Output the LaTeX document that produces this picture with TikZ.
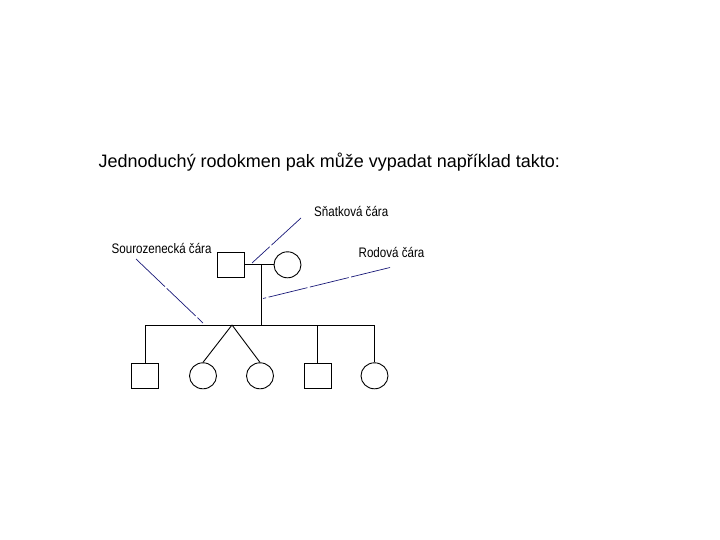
\documentclass[tikz,border=0pt]{standalone}
\usepackage{fontspec}
\setmainfont{Liberation Sans}
\usetikzlibrary{shapes.geometric}
\begin{document}
\begin{tikzpicture}[x=1pt,y=-1pt,
  male/.style={draw,line width=0.9pt,minimum width=27pt,minimum height=25pt,inner sep=0pt},
  female/.style={draw,line width=0.9pt,ellipse,minimum width=27pt,minimum height=26pt,inner sep=0pt},
  ped/.style={line width=0.9pt},
  ptr/.style={draw={rgb,255:red,25;green,25;blue,120},line width=0.7pt,dash pattern=on 40pt off 2.5pt},
  lbl/.style={font=\fontsize{13.8}{15}\selectfont,inner sep=0pt,anchor=west,xscale=0.84},
  title/.style={font=\fontsize{18}{20}\selectfont,inner sep=0pt,anchor=west}]
\useasboundingbox (0,0) rectangle (720,540);
\node[title] (t) at (98.5,162) {Jednoduchý rodokmen pak může vypadat například takto:};
% parents
\node[male] (f) at (230.5,264.8) {};
\node[female] (m) at (287.5,264.8) {};
\draw[ped] (f.east) -- (m.west);
\coordinate (d) at (261,265);
\coordinate (s) at (261,325);
\draw[ped] (d) -- (s);
% sibling line
\coordinate (sl) at (145,325);
\coordinate (sr) at (374.5,325);
\draw[ped] (sl) -- (sr);
% children
\node[male] (c1) at (145,375.8) {};
\node[female] (c2) at (203,375.8) {};
\node[female] (c3) at (260,375.8) {};
\node[male] (c4) at (317.5,375.8) {};
\node[female] (c5) at (374.5,375.8) {};
\coordinate (tw) at (232,325);
\draw[ped] (sl) -- (c1.north);
\draw[ped] (tw) -- (c2.north);
\draw[ped] (tw) -- (c3.north);
\draw[ped] (c4.north |- sl) -- (c4.north);
\draw[ped] (sr) -- (c5.north);
% labels
\node[lbl] (l1) at (314,211) {Sňatková čára};
\node[lbl] (l2) at (111.5,248.5) {Sourozenecká čára};
\node[lbl] (l3) at (358.5,252) {Rodová čára};
\coordinate (p1a) at (301,218);
\coordinate (p1b) at (252,263);
\coordinate (p2a) at (136,259);
\coordinate (p2b) at (203,323);
\coordinate (p3a) at (390,267.5);
\coordinate (p3b) at (263,298.5);
\draw[ptr] (p1a) -- (p1b);
\draw[ptr] (p2a) -- (p2b);
\draw[ptr] (p3a) -- (p3b);
\end{tikzpicture}
\end{document}
